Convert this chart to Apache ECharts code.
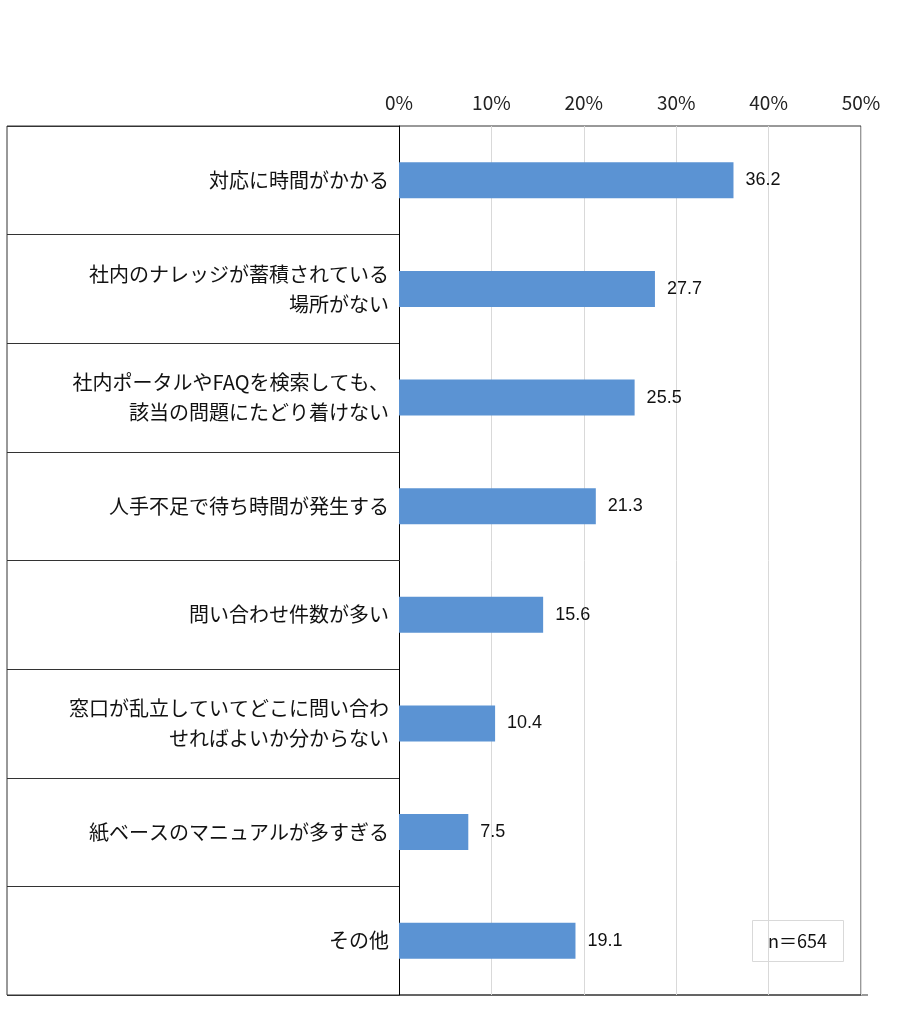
<!DOCTYPE html>
<html><head><meta charset="utf-8">
<script src="https://cdn.jsdelivr.net/npm/echarts@6/dist/echarts.min.js"></script>
<style>html,body{margin:0;background:#fff}#c{width:900px;height:1027px}</style>
</head><body><div id="c"></div>
<script>
const categories = [
  '対応に時間がかかる',
  '社内のナレッジが蓄積されている\n場所がない',
  '社内ポータルやFAQを検索しても、\n該当の問題にたどり着けない',
  '人手不足で待ち時間が発生する',
  '問い合わせ件数が多い',
  '窓口が乱立していてどこに問い合わ\nせればよいか分からない',
  '紙ベースのマニュアルが多すぎる',
  'その他'
]
const values = [36.2, 27.7, 25.5, 21.3, 15.6, 10.4, 7.5, 19.1]
const sampleNote = 'n＝654'

let chart = echarts.init(document.getElementById('c'))
const font = '"Noto Sans CJK JP", sans-serif'

chart.setOption({
  animation: false,
  grid: { left: 399, right: 39, top: 126, bottom: 32 },
  xAxis: {
    type: 'value', position: 'top', min: 0, max: 50, interval: 10,
    axisLabel: { formatter: '{value}%', fontSize: 19, color: '#222', fontFamily: font, margin: 14 },
    axisLine: { show: false }, axisTick: { show: false },
    splitLine: { lineStyle: { color: '#d9d9d9' } }
  },
  yAxis: {
    type: 'category', inverse: true, data: categories,
    axisLine: { lineStyle: { color: '#000' } },
    axisTick: { show: true, length: 392, lineStyle: { color: '#333' } },
    axisLabel: { fontSize: 20, color: '#111', fontFamily: font, lineHeight: 30, margin: 10, align: 'right' }
  },
  series: [{
    type: 'bar', data: values, barWidth: 36,
    itemStyle: { color: '#5b93d3' },
    label: { show: true, position: 'right', fontSize: 18, color: '#111', distance: 12,
      fontFamily: '"Liberation Sans Narrow", "Liberation Sans", sans-serif',
      formatter: p => p.value.toFixed(1) }
  }],
  graphic: [
    { type: 'rect', shape: { x: 7, y: 126, width: 854, height: 869 },
      style: { fill: 'none', stroke: '#333', lineWidth: 1 }, silent: true },
    { type: 'line', shape: { x1: 399, y1: 995, x2: 868, y2: 995 }, style: { stroke: '#333' } },
    { type: 'group', left: 752, top: 920, children: [
      { type: 'rect', shape: { width: 91, height: 41 }, style: { fill: '#fff', stroke: '#d9d9d9' } },
      { type: 'text', x: 45, y: 21, style: { text: sampleNote, fontSize: 18, fill: '#111',
        fontFamily: font, align: 'center', verticalAlign: 'middle' } }
    ] }
  ]
})
</script></body></html>
